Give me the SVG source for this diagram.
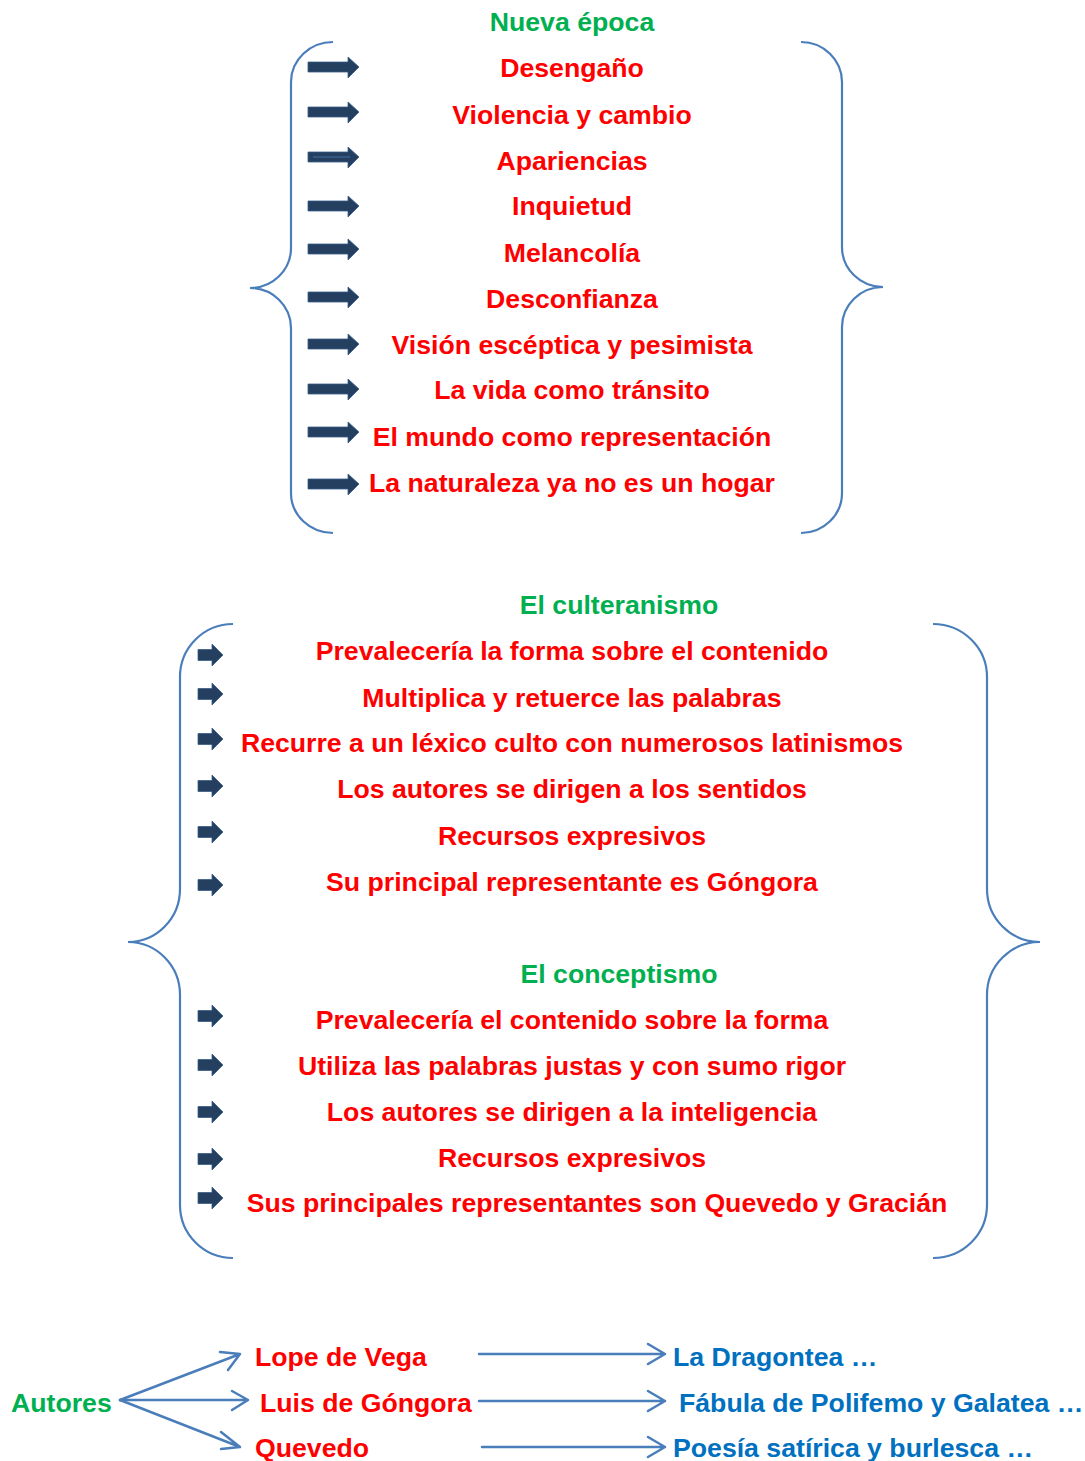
<svg xmlns="http://www.w3.org/2000/svg" width="1085" height="1461" viewBox="0 0 1085 1461">
<style>
text{font-family:"Liberation Sans",Arial,sans-serif;font-weight:bold;font-size:26.67px}
.r{fill:#FF0000;text-anchor:middle}
.g{fill:#00B050}
.gm{fill:#00B050;text-anchor:middle}
.rs{fill:#FF0000}
.b{fill:#0070C0}
.brace{fill:none;stroke:#4A7EBB;stroke-width:2.2}
.con{fill:none;stroke:#4A7EBB;stroke-width:2.5;stroke-linecap:round;stroke-linejoin:round}
.arr{fill:#243F60;stroke:#385D8A;stroke-width:0.8}
</style>
<defs>
<polygon id="bigArrow" class="arr" points="308,-5 348,-5 348,-10 359,0 348,11 348,5 308,5"/>
<polygon id="smallArrow" class="arr" points="198,-5.5 212,-5.5 212,-11 223,0 212,11 212,5.5 198,5.5"/>
</defs>
<rect width="1085" height="1461" fill="#FFFFFF"/>

<g id="brace-top-left"><path class="brace" d="M333,42 A42,40 0 0 0 291,82 L291,248 A41,40 0 0 1 250,288 A41,40 0 0 1 291,328 L291,493 A42,40 0 0 0 333,533"/></g>
<g id="brace-top-right"><path class="brace" d="M801,42 A41,40 0 0 1 842,82 L842,247 A41,40 0 0 0 883,287 A41,40 0 0 0 842,327 L842,493 A41,40 0 0 1 801,533"/></g>
<g id="brace-mid-left"><path class="brace" d="M233,624 A53,53 0 0 0 180,677 L180,889 A52,53 0 0 1 128,942 A52,53 0 0 1 180,995 L180,1205 A53,53 0 0 0 233,1258"/></g>
<g id="brace-mid-right"><path class="brace" d="M933,624 A54,53 0 0 1 987,677 L987,889 A53,53 0 0 0 1040,942 A53,53 0 0 0 987,995 L987,1205 A54,53 0 0 1 933,1258"/></g>

<g id="arrows-top">
<use href="#bigArrow" transform="translate(0,67)"/>
<use href="#bigArrow" transform="translate(0,112)"/>
<use href="#bigArrow" transform="translate(0,157)"/>
<line x1="313" y1="157" x2="350" y2="157" stroke="#3A5F8F" stroke-width="1.5"/>
<use href="#bigArrow" transform="translate(0,206)"/>
<use href="#bigArrow" transform="translate(0,249)"/>
<use href="#bigArrow" transform="translate(0,297)"/>
<use href="#bigArrow" transform="translate(0,344)"/>
<use href="#bigArrow" transform="translate(0,389)"/>
<use href="#bigArrow" transform="translate(0,432)"/>
<use href="#bigArrow" transform="translate(0,484)"/>
</g>

<g id="arrows-mid">
<use href="#smallArrow" transform="translate(0,655)"/>
<use href="#smallArrow" transform="translate(0,694)"/>
<use href="#smallArrow" transform="translate(0,739)"/>
<use href="#smallArrow" transform="translate(0,786)"/>
<use href="#smallArrow" transform="translate(0,832)"/>
<use href="#smallArrow" transform="translate(0,885)"/>
<use href="#smallArrow" transform="translate(0,1016)"/>
<use href="#smallArrow" transform="translate(0,1065)"/>
<use href="#smallArrow" transform="translate(0,1112)"/>
<use href="#smallArrow" transform="translate(0,1159)"/>
<use href="#smallArrow" transform="translate(0,1198)"/>
</g>

<g id="node-nueva-epoca">
<text class="gm" x="572" y="31">Nueva época</text>
<text class="r" x="572" y="77">Desengaño</text>
<text class="r" x="572" y="124">Violencia y cambio</text>
<text class="r" x="572" y="170">Apariencias</text>
<text class="r" x="572" y="215">Inquietud</text>
<text class="r" x="572" y="262">Melancolía</text>
<text class="r" x="572" y="308">Desconfianza</text>
<text class="r" x="572" y="354">Visión escéptica y pesimista</text>
<text class="r" x="572" y="399">La vida como tránsito</text>
<text class="r" x="572" y="446">El mundo como representación</text>
<text class="r" x="572" y="492">La naturaleza ya no es un hogar</text>
</g>

<g id="node-culteranismo">
<text class="gm" x="619" y="614">El culteranismo</text>
<text class="r" x="572" y="660">Prevalecería la forma sobre el contenido</text>
<text class="r" x="572" y="707">Multiplica y retuerce las palabras</text>
<text class="r" x="572" y="752">Recurre a un léxico culto con numerosos latinismos</text>
<text class="r" x="572" y="798">Los autores se dirigen a los sentidos</text>
<text class="r" x="572" y="845">Recursos expresivos</text>
<text class="r" x="572" y="891">Su principal representante es Góngora</text>
</g>

<g id="node-conceptismo">
<text class="gm" x="619" y="983">El conceptismo</text>
<text class="r" x="572" y="1029">Prevalecería el contenido sobre la forma</text>
<text class="r" x="572" y="1075">Utiliza las palabras justas y con sumo rigor</text>
<text class="r" x="572" y="1121">Los autores se dirigen a la inteligencia</text>
<text class="r" x="572" y="1167">Recursos expresivos</text>
<text class="r" x="597" y="1212">Sus principales representantes son Quevedo y Gracián</text>
</g>

<g id="node-autores"><text class="g" x="11" y="1412">Autores</text></g>
<g id="node-lope"><text class="rs" x="255" y="1366">Lope de Vega</text></g>
<g id="node-gongora"><text class="rs" x="260" y="1412">Luis de Góngora</text></g>
<g id="node-quevedo"><text class="rs" x="255" y="1457">Quevedo</text></g>
<g id="node-dragontea"><text class="b" x="673" y="1366">La Dragontea …</text></g>
<g id="node-polifemo"><text class="b" x="679" y="1412">Fábula de Polifemo y Galatea …</text></g>
<g id="node-poesia"><text class="b" x="673" y="1457">Poesía satírica y burlesca …</text></g>

<g id="connectors">
<path class="con" d="M120,1400 L240,1354 M220,1352 L240,1354 L228,1370"/>
<path class="con" d="M120,1400 L248,1400 M232,1391 L248,1400 L232,1410"/>
<path class="con" d="M120,1400 L240,1447 M221,1432 L240,1447 L221,1449"/>
<path class="con" d="M479,1354 L665,1354 M648,1344 L665,1354 L648,1364"/>
<path class="con" d="M479,1401 L665,1401 M648,1391 L665,1401 L648,1411"/>
<path class="con" d="M482,1447 L665,1447 M648,1437 L665,1447 L648,1457"/>
</g>
</svg>
